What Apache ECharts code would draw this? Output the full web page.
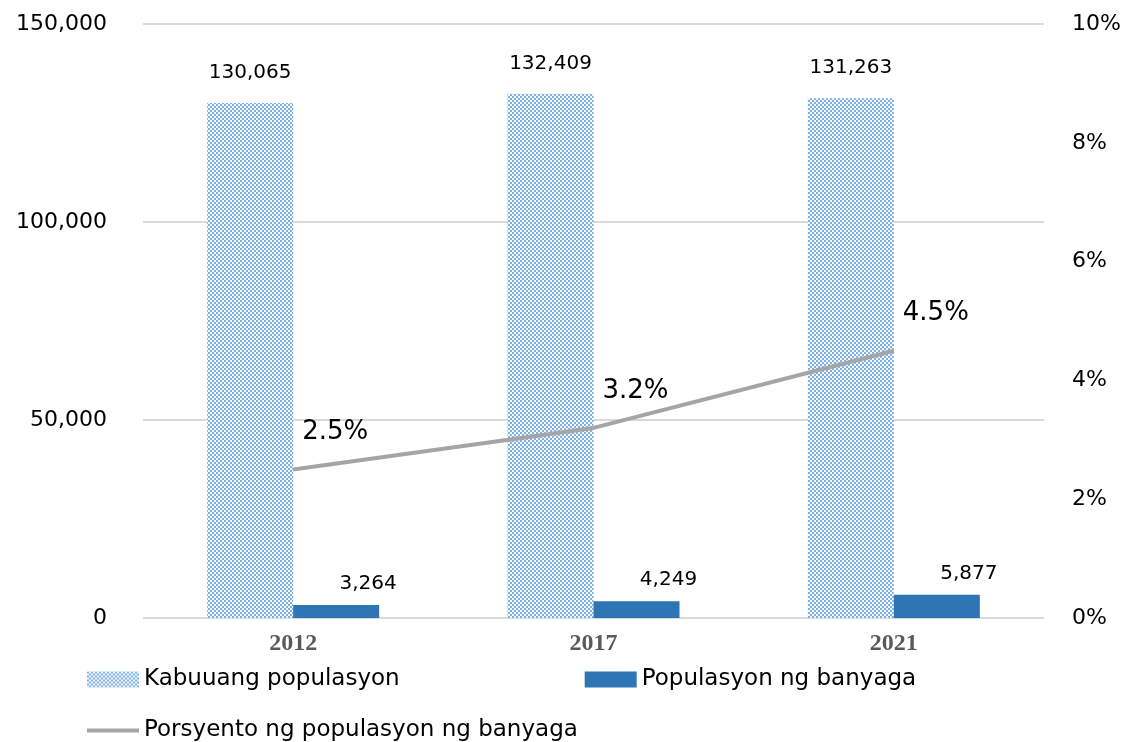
<!DOCTYPE html>
<html>
<head>
<meta charset="utf-8">
<script src="https://cdn.jsdelivr.net/npm/echarts@6/dist/echarts.min.js"></script>
<style>
  html, body { margin: 0; padding: 0; background: #fff; }
  #chart { width: 1129px; height: 742px; }
</style>
</head>
<body>
<div id="chart"></div>
<script>
  // data
  var years = ['2012', '2017', '2021']
  var kabuuang = [130065, 132409, 131263] // Kabuuang populasyon
  var banyaga = [3264, 4249, 5877] // Populasyon ng banyaga
  var porsyento = [2.5, 3.2, 4.5] // Porsyento ng populasyon ng banyaga (%)

  // checkerboard fill for the total bars
  function makePattern () {
    var c = document.createElement('canvas')
    c.width = 4
    c.height = 4
    var ctx = c.getContext('2d')
    ctx.fillStyle = '#f4f8fc'
    ctx.fillRect(0, 0, 4, 4)
    ctx.fillStyle = '#80b0e2'
    ctx.fillRect(0, 0, 2, 2)
    ctx.fillRect(2, 2, 2, 2)
    return c
  }
  var pattern = {image: makePattern(), repeat: 'repeat'}

  var fontFam = '"DejaVu Sans", Verdana, sans-serif'
  var fmt = function (v) { return v.toLocaleString('en-US') }
  var chart = echarts.init(document.getElementById('chart'))
  chart.setOption({
    animation: false,
    textStyle: {fontFamily: fontFam},
    grid: {left: 143, right: 85, top: 24, bottom: 124},
    legend: [
      {
        left: 82, top: 663, itemWidth: 52, itemHeight: 16, itemGap: 185, icon: 'rect',
        textStyle: {fontSize: 23, color: '#000', fontFamily: fontFam},
        data: ['Kabuuang populasyon', 'Populasyon ng banyaga']
      },
      {
        left: 82, top: 714, itemWidth: 52, itemHeight: 4, icon: 'rect',
        textStyle: {fontSize: 23, color: '#000', fontFamily: fontFam},
        data: ['Porsyento ng populasyon ng banyaga']
      }
    ],
    xAxis: {
      type: 'category',
      data: years,
      axisLine: {show: false},
      axisTick: {show: false},
      axisLabel: {
        fontFamily: '"Liberation Serif", "Times New Roman", serif',
        fontWeight: 'bold', fontSize: 24, color: '#595959', margin: 14
      }
    },
    yAxis: [
      {
        type: 'value', min: 0, max: 150000, interval: 50000,
        axisLine: {show: false}, axisTick: {show: false},
        splitLine: {lineStyle: {color: '#d9d9d9', width: 2}},
        axisLabel: {fontSize: 22, color: '#000', margin: 36, formatter: fmt}
      },
      {
        type: 'value', min: 0, max: 10, interval: 2,
        axisLine: {show: false}, axisTick: {show: false},
        splitLine: {show: false},
        axisLabel: {
          fontSize: 22, color: '#000', margin: 28,
          formatter: function (v) { return v + '%' }
        }
      }
    ],
    series: [
      {
        name: 'Kabuuang populasyon', type: 'bar', data: kabuuang,
        barWidth: 86, barGap: '0%',
        itemStyle: {color: pattern},
        label: {
          show: true, position: 'top', distance: 20, fontSize: 20, color: '#000',
          formatter: function (p) { return fmt(p.value) }
        }
      },
      {
        name: 'Populasyon ng banyaga', type: 'bar', data: banyaga,
        barWidth: 86,
        itemStyle: {color: '#2e75b6'},
        label: {
          show: true, position: 'top', distance: 11, offset: [32, 0], fontSize: 20, color: '#000',
          formatter: function (p) { return fmt(p.value) }
        }
      },
      {
        name: 'Porsyento ng populasyon ng banyaga', type: 'line', yAxisIndex: 1, data: porsyento,
        symbol: 'circle', symbolSize: 0, showSymbol: true,
        lineStyle: {color: '#a5a5a5', width: 4},
        itemStyle: {color: '#a5a5a5'},
        label: {
          show: true, position: 'top', distance: 24, offset: [42, 0], fontSize: 26, color: '#000',
          formatter: function (p) { return p.value.toFixed(1) + '%' }
        }
      }
    ]
  })
</script>
</body>
</html>
